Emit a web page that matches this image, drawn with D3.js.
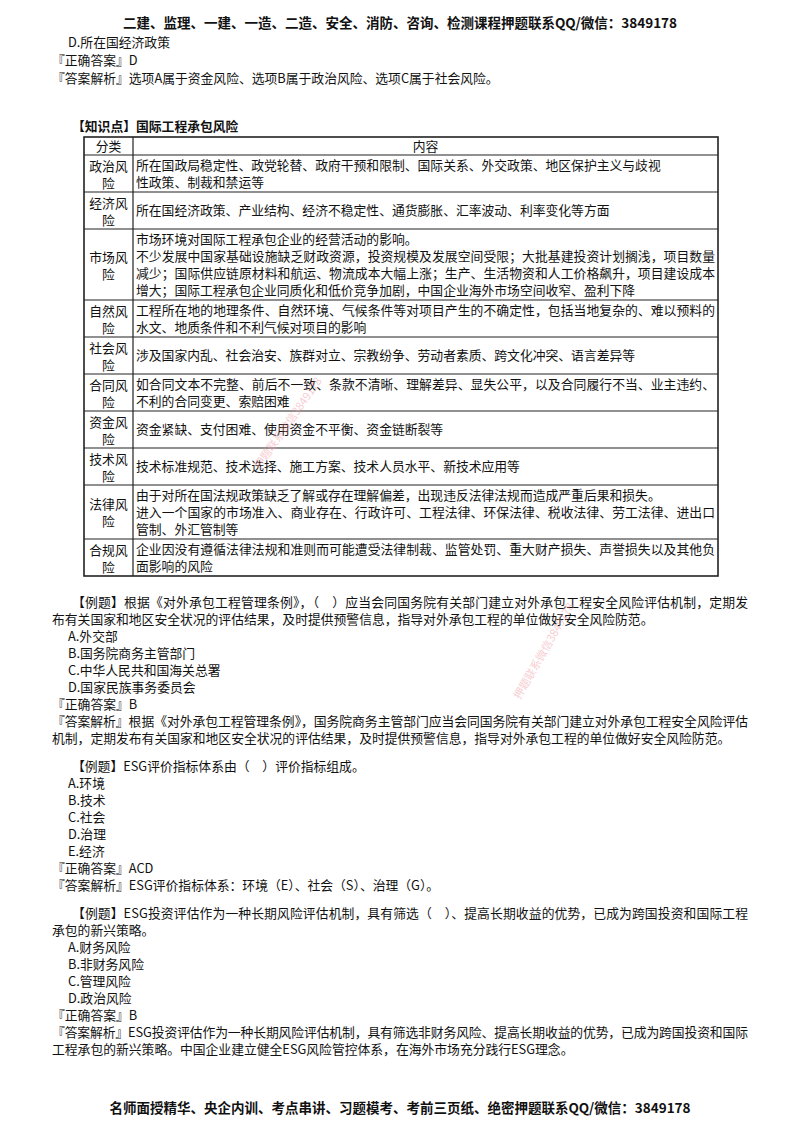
<!DOCTYPE html>
<html><head><meta charset="utf-8">
<script src="https://cdn.jsdelivr.net/npm/d3@7"></script>
<style>body{margin:0;background:#fff}text{font-family:"Noto Sans CJK SC",sans-serif;fill:#111}</style>
</head><body><div id="page"></div>
<script>
var W = 800, H = 1132;
var headerText = "二建、监理、一建、一造、二造、安全、消防、咨询、检测课程押题联系QQ/微信：3849178";
var footerText = "名师面授精华、央企内训、考点串讲、习题模考、考前三页纸、绝密押题联系QQ/微信：3849178";

var categories = ["政治风险","经济风险","市场风险","自然风险","社会风险","合同风险","资金风险","技术风险","法律风险","合规风险"];
var contents = [
  ["所在国政局稳定性、政党轮替、政府干预和限制、国际关系、外交政策、地区保护主义与歧视","性政策、制裁和禁运等"],
  ["所在国经济政策、产业结构、经济不稳定性、通货膨胀、汇率波动、利率变化等方面"],
  ["市场环境对国际工程承包企业的经营活动的影响。","不少发展中国家基础设施缺乏财政资源，投资规模及发展空间受限；大批基建投资计划搁浅，项目数量","减少；国际供应链原材料和航运、物流成本大幅上涨；生产、生活物资和人工价格飙升，项目建设成本","增大；国际工程承包企业同质化和低价竞争加剧，中国企业海外市场空间收窄、盈利下降"],
  ["工程所在地的地理条件、自然环境、气候条件等对项目产生的不确定性，包括当地复杂的、难以预料的","水文、地质条件和不利气候对项目的影响"],
  ["涉及国家内乱、社会治安、族群对立、宗教纷争、劳动者素质、跨文化冲突、语言差异等"],
  ["如合同文本不完整、前后不一致、条款不清晰、理解差异、显失公平，以及合同履行不当、业主违约、","不利的合同变更、索赔困难"],
  ["资金紧缺、支付困难、使用资金不平衡、资金链断裂等"],
  ["技术标准规范、技术选择、施工方案、技术人员水平、新技术应用等"],
  ["由于对所在国法规政策缺乏了解或存在理解偏差，出现违反法律法规而造成严重后果和损失。","进入一个国家的市场准入、商业存在、行政许可、工程法律、环保法律、税收法律、劳工法律、进出口","管制、外汇管制等"],
  ["企业因没有遵循法律法规和准则而可能遭受法律制裁、监管处罚、重大财产损失、声誉损失以及其他负","面影响的风险"]
];
// text lines: [x, y, text, bold, justifyWidth]
var topLines = [
  [68, 47, "D.所在国经济政策"],
  [52, 65, "『正确答案』D"],
  [52, 83, "『答案解析』选项A属于资金风险、选项B属于政治风险、选项C属于社会风险。"],
  [72, 131, "【知识点】国际工程承包风险", true]
];
var bottomLines = [
  [72, 607, "【例题】根据《对外承包工程管理条例》，（　）应当会同国务院有关部门建立对外承包工程安全风险评估机制，定期发", false, 676],
  [52, 624, "布有关国家和地区安全状况的评估结果，及时提供预警信息，指导对外承包工程的单位做好安全风险防范。"],
  [68, 641, "A.外交部"], [68, 658, "B.国务院商务主管部门"], [68, 675, "C.中华人民共和国海关总署"], [68, 692, "D.国家民族事务委员会"],
  [52, 709, "『正确答案』B"],
  [52, 726, "『答案解析』根据《对外承包工程管理条例》，国务院商务主管部门应当会同国务院有关部门建立对外承包工程安全风险评估", false, 696],
  [52, 743, "机制，定期发布有关国家和地区安全状况的评估结果，及时提供预警信息，指导对外承包工程的单位做好安全风险防范。"],
  [72, 771, "【例题】ESG评价指标体系由（　）评价指标组成。"],
  [68, 788, "A.环境"], [68, 805, "B.技术"], [68, 822, "C.社会"], [68, 839, "D.治理"], [68, 856, "E.经济"],
  [52, 873, "『正确答案』ACD"],
  [52, 890, "『答案解析』ESG评价指标体系：环境（E）、社会（S）、治理（G）。"],
  [72, 918, "【例题】ESG投资评估作为一种长期风险评估机制，具有筛选（　）、提高长期收益的优势，已成为跨国投资和国际工程", false, 676],
  [52, 935, "承包的新兴策略。"],
  [68, 952, "A.财务风险"], [68, 969, "B.非财务风险"], [68, 986, "C.管理风险"], [68, 1003, "D.政治风险"],
  [52, 1020, "『正确答案』B"],
  [52, 1037, "『答案解析』ESG投资评估作为一种长期风险评估机制，具有筛选非财务风险、提高长期收益的优势，已成为跨国投资和国际", false, 696],
  [52, 1054, "工程承包的新兴策略。中国企业建立健全ESG风险管控体系，在海外市场充分践行ESG理念。"]
];

var svg = d3.select("#page").append("svg").attr("width", W).attr("height", H);

svg.append("text").attr("x", 400).attr("y", 28).attr("text-anchor", "middle")
  .style("font-size", "13.5px").style("font-weight", "bold").text(headerText);
svg.append("text").attr("x", 400).attr("y", 1113).attr("text-anchor", "middle")
  .style("font-size", "13.5px").style("font-weight", "bold").text(footerText);

function drawLines(lines) {
  lines.forEach(function(l) {
    var t = svg.append("text").attr("x", l[0]).attr("y", l[1]).style("font-size", "12.8px")
      .style("font-weight", l[3] ? "bold" : "normal").text(l[2]);
    if (l[4]) t.attr("textLength", l[4]).attr("lengthAdjust", "spacing");
  });
}
drawLines(topLines);
drawLines(bottomLines);

// table
var tx0 = 84, tx1 = 718, cx = 133, ty0 = 137, headH = 18, lineH = 17;
var rowH = contents.map(function(c) { return Math.max(2, c.length) * lineH + 3; });
var rowY = [ty0 + headH];
rowH.forEach(function(h, i) { rowY.push(rowY[i] + h); });
var tyEnd = rowY[rowY.length - 1];

var g = svg.append("g");
g.append("rect").attr("x", tx0).attr("y", ty0).attr("width", tx1 - tx0).attr("height", tyEnd - ty0)
  .attr("fill", "none").attr("stroke", "#222").attr("stroke-width", 1.6);
g.append("line").attr("x1", cx).attr("x2", cx).attr("y1", ty0).attr("y2", tyEnd).attr("stroke", "#222").attr("stroke-width", 1.2);
rowY.slice(0, -1).forEach(function(y) {
  g.append("line").attr("x1", tx0).attr("x2", tx1).attr("y1", y).attr("y2", y).attr("stroke", "#222").attr("stroke-width", 1.2);
});
g.append("text").attr("x", (tx0 + cx) / 2).attr("y", ty0 + 14).attr("text-anchor", "middle").style("font-size", "12.8px").text("分类");
g.append("text").attr("x", (cx + tx1) / 2).attr("y", ty0 + 14).attr("text-anchor", "middle").style("font-size", "12.8px").text("内容");

categories.forEach(function(cat, i) {
  var mid = rowY[i] + rowH[i] / 2;
  g.append("text").attr("x", (tx0 + cx) / 2).attr("y", mid - 3).attr("text-anchor", "middle").style("font-size", "12.8px").text(cat.slice(0, 3));
  g.append("text").attr("x", (tx0 + cx) / 2).attr("y", mid + 14).attr("text-anchor", "middle").style("font-size", "12.8px").text(cat.slice(3));
  var c = contents[i];
  var startY = mid - (c.length * lineH) / 2 + 13;
  c.forEach(function(line, j) {
    var t = g.append("text").attr("x", cx + 3).attr("y", startY + j * lineH).style("font-size", "12.8px").text(line);
    if (line.length >= 44 && j < c.length - 1) t.attr("textLength", tx1 - cx - 6).attr("lengthAdjust", "spacing");
  });
});

// faint watermarks
[[260, 470, -55], [520, 700, -60]].forEach(function(w) {
  svg.append("text").attr("transform", "translate(" + w[0] + "," + w[1] + ") rotate(" + w[2] + ")")
    .style("font-size", "11px").style("fill", "#f0a0a8").style("opacity", 0.5).text("押题联系微信3849178");
});
</script></body></html>
